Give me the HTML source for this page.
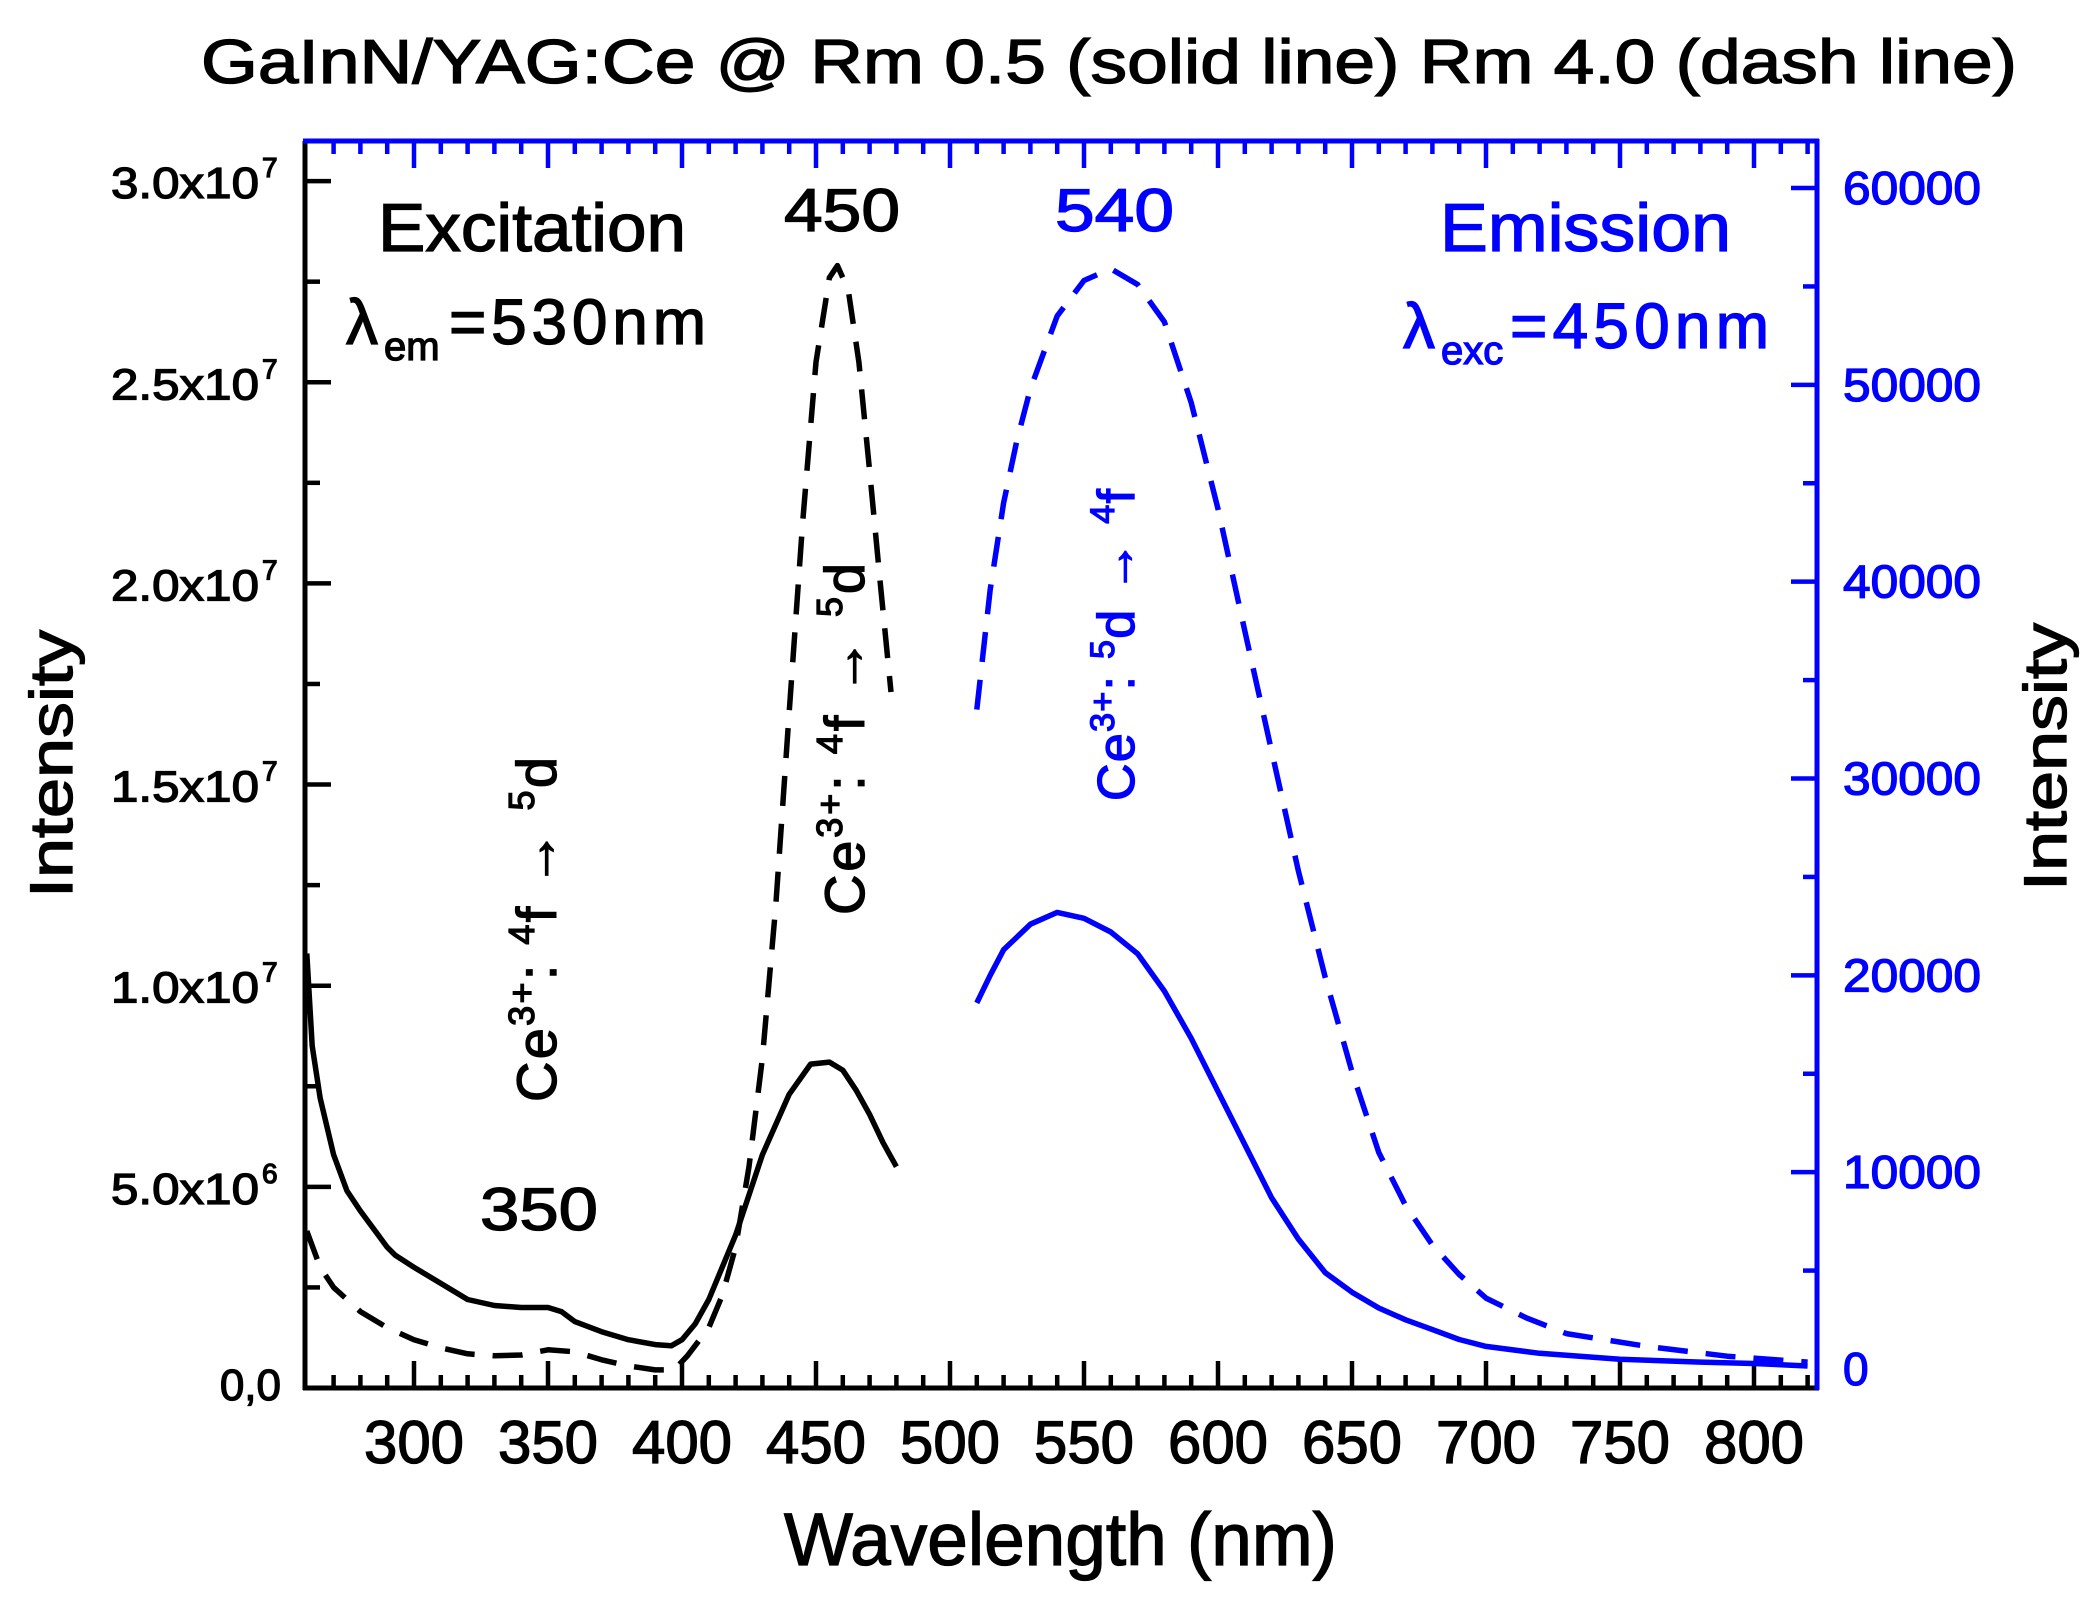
<!DOCTYPE html>
<html><head><meta charset="utf-8"><style>
html,body{margin:0;padding:0;background:#fff;}
svg{display:block;}
text{font-family:"Liberation Sans",Arial,sans-serif;stroke-width:1.3;}
</style></head><body>
<svg id="s" width="2100" height="1603" viewBox="0 0 2100 1603" xmlns="http://www.w3.org/2000/svg">
<rect width="2100" height="1603" fill="#fff"/>
<g id="ticks"></g>
<g id="curves" fill="none" stroke-width="5.5" stroke-linejoin="round"></g>
<line x1="305" y1="141" x2="305" y2="1390" stroke="#000" stroke-width="5"/>
<line x1="303" y1="1388" x2="1819" y2="1388" stroke="#000" stroke-width="5"/>
<line x1="303" y1="141" x2="1819" y2="141" stroke="#00f" stroke-width="5"/>
<line x1="1817" y1="139" x2="1817" y2="1390" stroke="#00f" stroke-width="5"/>
<g stroke="#000">
<text x="201" y="83" font-size="62" textLength="1816" lengthAdjust="spacingAndGlyphs">GaInN/YAG:Ce @ Rm 0.5 (solid line) Rm 4.0 (dash line)</text>
<text x="784" y="1565" font-size="74" textLength="553" lengthAdjust="spacingAndGlyphs">Wavelength (nm)</text>
<text transform="translate(72,764) rotate(-90)" font-size="60" text-anchor="middle" textLength="268" lengthAdjust="spacingAndGlyphs">Intensity</text>
<text transform="translate(2066,757) rotate(-90)" font-size="60" text-anchor="middle" textLength="268" lengthAdjust="spacingAndGlyphs">Intensity</text>
<text x="378" y="251" font-size="68" textLength="308" lengthAdjust="spacingAndGlyphs">Excitation</text>
<text x="346" y="344" font-size="64">λ</text>
<text x="384" y="360" font-size="40">em</text>
<text x="449" y="344" font-size="64" textLength="257" lengthAdjust="spacing">=530nm</text>
<text x="784" y="231" font-size="60" textLength="116" lengthAdjust="spacingAndGlyphs">450</text>
<text x="480" y="1230" font-size="60" textLength="118" lengthAdjust="spacingAndGlyphs">350</text>
<text transform="translate(556,1102) rotate(-90)" font-size="56" textLength="345" lengthAdjust="spacing">Ce<tspan font-size="36" dy="-22">3+</tspan><tspan dy="22">: </tspan><tspan font-size="36" dy="-22">4</tspan><tspan dy="22">f → </tspan><tspan font-size="36" dy="-22">5</tspan><tspan dy="22">d</tspan></text>
<text transform="translate(864,915) rotate(-90)" font-size="56" textLength="352" lengthAdjust="spacing">Ce<tspan font-size="36" dy="-22">3+</tspan><tspan dy="22">: </tspan><tspan font-size="36" dy="-22">4</tspan><tspan dy="22">f → </tspan><tspan font-size="36" dy="-22">5</tspan><tspan dy="22">d</tspan></text>
</g>
<g fill="#00f" stroke="#00f">
<text x="1055" y="231" font-size="60" textLength="119" lengthAdjust="spacingAndGlyphs">540</text>
<text x="1440" y="251" font-size="68" textLength="291" lengthAdjust="spacingAndGlyphs">Emission</text>
<text x="1403" y="348" font-size="64">λ</text>
<text x="1441" y="364" font-size="40">exc</text>
<text x="1510" y="348" font-size="64" textLength="259" lengthAdjust="spacing">=450nm</text>
<text transform="translate(1134,801) rotate(-90)" font-size="52" textLength="312" lengthAdjust="spacing">Ce<tspan font-size="34" dy="-20">3+</tspan><tspan dy="20">: </tspan><tspan font-size="34" dy="-20">5</tspan><tspan dy="20">d → </tspan><tspan font-size="34" dy="-20">4</tspan><tspan dy="20">f</tspan></text>
</g>
<g id="labels"></g>
</svg>
<script>
const NS="http://www.w3.org/2000/svg";
const X=nm=>682+(nm-400)*2.68;
const YL=v=>1388-v*40.23;
const YR=v=>1369-v*0.019683;
function el(p,tag,a,txt){const e=document.createElementNS(NS,tag);for(const k in a)e.setAttribute(k,a[k]);if(txt!==undefined)e.textContent=txt;p.appendChild(e);return e;}
const T=document.getElementById('ticks'),L=document.getElementById('labels'),C=document.getElementById('curves');
for(let nm=270;nm<=820;nm+=10){const x=X(nm);const maj=nm%50==0;const len=maj?27:13;
 el(T,'line',{x1:x,y1:1388,x2:x,y2:1388-len,stroke:'#000','stroke-width':4.5});
 el(T,'line',{x1:x,y1:141,x2:x,y2:141+len,stroke:'#00f','stroke-width':4.5});
 if(maj&&nm<=800)el(L,'text',{x:x,y:1463,'font-size':60,'text-anchor':'middle',stroke:'#000',textLength:100,lengthAdjust:'spacingAndGlyphs'},String(nm));}
for(let i=1;i<=12;i++){const v=i*2.5;const y=YL(v);const maj=i%2==0;
 el(T,'line',{x1:305,y1:y,x2:305+(maj?26:15),y2:y,stroke:'#000','stroke-width':4.5});}
const ll=[[0,"0,0"],[5,"5.0x10","6"],[10,"1.0x10","7"],[15,"1.5x10","7"],[20,"2.0x10","7"],[25,"2.5x10","7"],[30,"3.0x10","7"]];
ll.forEach(([v,t,e])=>{const y=YL(v)+(v==0?12:17);
 if(e){el(L,'text',{x:111,y:y,'font-size':44,stroke:'#000',textLength:148,lengthAdjust:'spacingAndGlyphs'},t);el(L,'text',{x:262,y:y-21,'font-size':28,stroke:'#000'},e);}
 else el(L,'text',{x:281,y:y,'font-size':44,'text-anchor':'end',stroke:'#000'},t);});
for(let v=5000;v<=60000;v+=5000){const y=YR(v);const maj=v%10000==0;
 el(T,'line',{x1:1817,y1:y,x2:1817-(maj?26:14),y2:y,stroke:'#00f','stroke-width':4.5});}
for(let v=0;v<=60000;v+=10000){const a={x:1843,y:YR(v)+16,'font-size':46,fill:'#00f',stroke:'#00f'};if(v){a.textLength=138;a.lengthAdjust='spacingAndGlyphs';}el(L,'text',a,String(v));}
function path(data,fy,col,dash){let d=data.map((p,i)=>(i?'L':'M')+X(p[0]).toFixed(1)+' '+fy(p[1]).toFixed(1)).join(' ');
 const a={d:d,stroke:col};if(dash)a['stroke-dasharray']='30 18';el(C,'path',a);}
path([[260,10.8],[262,8.5],[265,7.2],[270,5.8],[275,4.9],[280,4.4],[290,3.5],[293,3.3],[300,3.0],[310,2.6],[320,2.2],[330,2.05],[340,2.0],[350,2.0],[355,1.9],[360,1.65],[370,1.4],[380,1.2],[390,1.08],[396,1.05],[400,1.2],[405,1.6],[410,2.2],[420,3.8],[430,5.8],[440,7.3],[448,8.05],[455,8.1],[460,7.9],[465,7.4],[470,6.8],[475,6.1],[480,5.5]],YL,'#000');
path([[260,3.9],[265,3.0],[270,2.5],[280,1.9],[290,1.5],[300,1.2],[310,1.0],[320,0.85],[330,0.8],[340,0.82],[350,0.95],[360,0.9],[370,0.7],[380,0.55],[390,0.45],[397,0.45],[402,0.8],[410,1.5],[415,2.3],[420,3.5],[425,5.5],[430,8.2],[435,12],[440,16.8],[445,21.5],[450,25.5],[455,27.6],[458,27.9],[462,27.3],[466,25.5],[470,22.8],[474,20],[478,17.3]],YL,'#000',true);
path([[510,18600],[515,20000],[520,21300],[530,22600],[540,23200],[550,22900],[560,22200],[570,21100],[580,19200],[590,16800],[600,14100],[610,11400],[620,8700],[630,6600],[640,4900],[650,3900],[660,3100],[670,2500],[680,2000],[690,1500],[700,1150],[720,800],[750,500],[780,350],[800,280],[820,150]],YR,'#00f');
path([[510,33500],[515,39600],[520,44000],[525,47200],[530,49800],[540,53500],[550,55300],[560,55900],[570,55100],[580,53200],[590,49100],[600,43700],[610,37500],[620,31400],[630,25300],[640,19900],[650,15100],[660,11000],[670,8300],[680,6300],[690,4800],[700,3600],[715,2600],[730,1800],[760,1150],[790,650],[820,350]],YR,'#00f',true);
</script>
</body></html>
